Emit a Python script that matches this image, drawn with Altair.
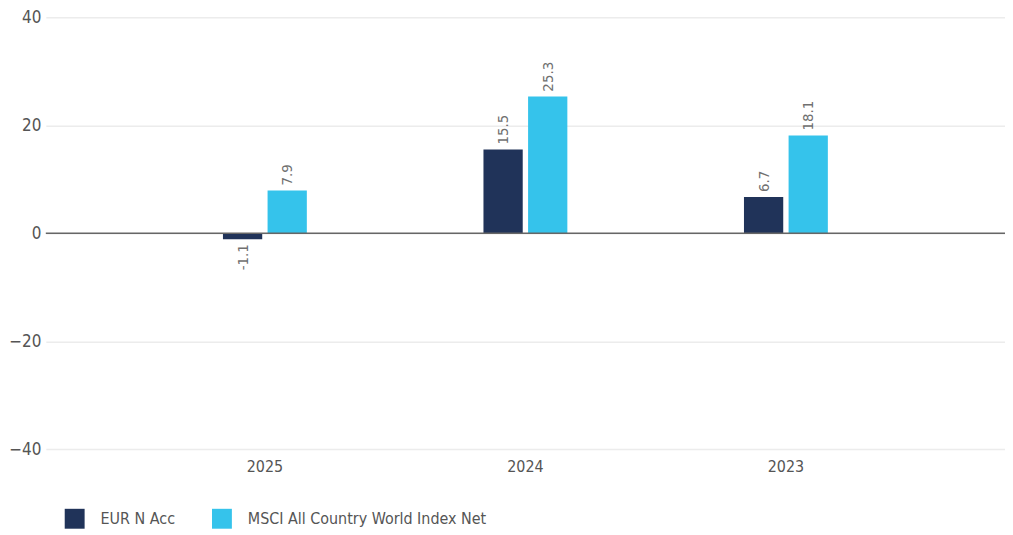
import altair as alt
import pandas as pd

years = ["2025", "2024", "2023"]
series = ["EUR N Acc", "MSCI All Country World Index Net"]
fund = [-1.1, 15.5, 6.7]
index = [7.9, 25.3, 18.1]
colors = ["#203359", "#35c3eb"]

rows = []
for i, y in enumerate(years):
    rows.append({"year": y, "series": series[0], "value": fund[i]})
    rows.append({"year": y, "series": series[1], "value": index[i]})
df = pd.DataFrame(rows)
df["label"] = df["value"].map(lambda v: f"{v:.1f}")

FONT = "Liberation Sans Narrow, DejaVu Sans Condensed, Roboto, sans-serif"

x = alt.X("year:N", sort=years, title=None,
          scale=alt.Scale(paddingInner=0.678, paddingOuter=0.68),
          axis=alt.Axis(labelAngle=0, domain=False, ticks=False, labelPadding=10,
                        labelFontSize=16, labelColor="#555555", labelFont=FONT))
xo = alt.XOffset("series:N", sort=series, scale=alt.Scale(paddingInner=0.12))
y = alt.Y("value:Q", title=None,
          scale=alt.Scale(domain=[-40, 40], nice=False),
          axis=alt.Axis(values=[-40, -20, 0, 20, 40], domain=False, ticks=False,
                        labelPadding=5, labelFontSize=17, labelColor="#555555",
                        labelFont=FONT, gridColor="#ececec", gridWidth=1.5))

base = alt.Chart(df)

bars = base.mark_bar().encode(
    x=x, xOffset=xo, y=y,
    color=alt.Color("series:N", sort=series,
                    scale=alt.Scale(domain=series, range=colors),
                    legend=alt.Legend(title=None, orient="none", legendX=19, legendY=494,
                                      direction="horizontal", symbolType="square",
                                      symbolSize=400, symbolStrokeWidth=0,
                                      labelFontSize=16, labelFont=FONT, labelLimit=500,
                                      labelColor="#555555", labelOffset=16,
                                      columnPadding=37)),
)

pos = base.transform_filter("datum.value >= 0").mark_text(
    angle=270, align="left", baseline="middle", dx=5, fontSize=15,
    font=FONT, color="#707070").encode(x=x, xOffset=xo, y=y, text="label:N")
neg = base.transform_filter("datum.value < 0").mark_text(
    angle=270, align="right", baseline="middle", dx=-5, fontSize=15,
    font=FONT, color="#707070").encode(x=x, xOffset=xo, y=y, text="label:N")

zero = alt.Chart(pd.DataFrame({"z": [0]})).mark_rule(color="#666666", strokeWidth=1.5).encode(
    y=alt.Y("z:Q", scale=alt.Scale(domain=[-40, 40], nice=False)))

chart = alt.layer(bars, zero, pos, neg).properties(
    width=964, height=434,
    padding={"left": 38, "top": 8, "right": 0, "bottom": 84},
    autosize=alt.AutoSizeParams(type="none"),
).configure_view(stroke=None)

chart.save("out.html", embed_options={"renderer": "svg", "actions": False})
